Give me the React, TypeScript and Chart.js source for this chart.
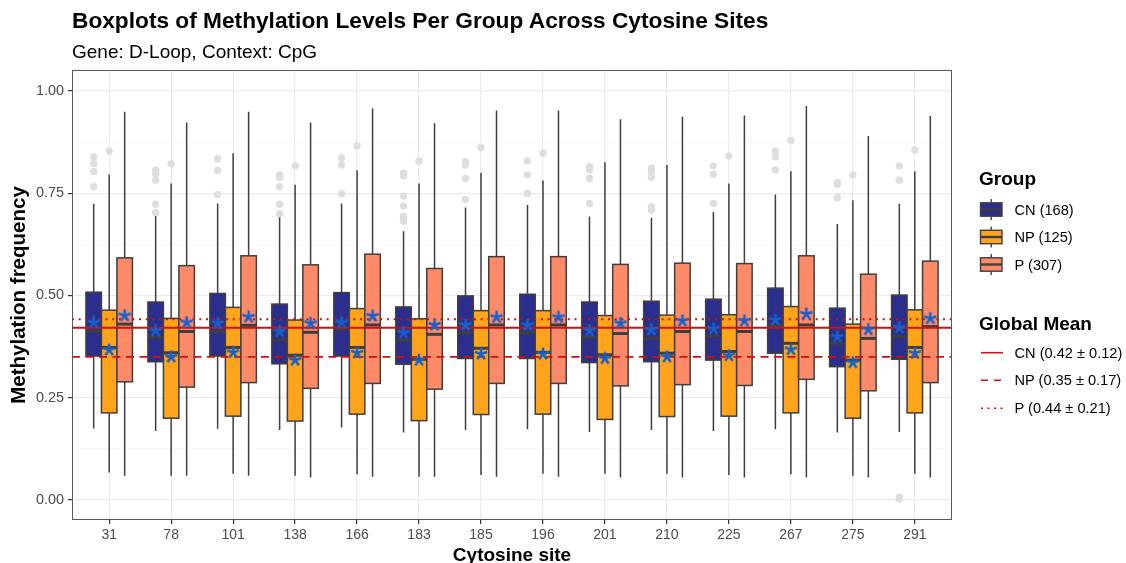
import React, { useEffect, useRef } from 'react';
import { Chart, registerables } from 'chart.js';

Chart.register(...registerables);

// ---------- DATA ----------
const sites = ['31', '78', '101', '138', '166', '183', '185', '196', '201', '210', '225', '267', '275', '291'];
const groups = ['CN (168)', 'NP (125)', 'P (307)'];
const groupColors = ['#2B2E8C', '#FFA41B', '#FF8A68'];

const cnLow = [0.175, 0.169, 0.174, 0.171, 0.177, 0.165, 0.171, 0.173, 0.166, 0.171, 0.169, 0.173, 0.165, 0.166];
const cnQ1 = [0.352, 0.338, 0.352, 0.333, 0.352, 0.332, 0.346, 0.346, 0.336, 0.338, 0.342, 0.359, 0.326, 0.344];
const cnMed = [0.412, 0.398, 0.412, 0.391, 0.418, 0.391, 0.409, 0.409, 0.398, 0.395, 0.401, 0.425, 0.383, 0.399];
const cnQ3 = [0.508, 0.484, 0.505, 0.479, 0.507, 0.472, 0.499, 0.503, 0.484, 0.486, 0.491, 0.518, 0.469, 0.501];
const cnHigh = [0.724, 0.695, 0.725, 0.693, 0.725, 0.657, 0.715, 0.721, 0.693, 0.690, 0.704, 0.747, 0.675, 0.724];
const cnMean = [0.434, 0.414, 0.432, 0.412, 0.434, 0.409, 0.428, 0.428, 0.414, 0.416, 0.419, 0.440, 0.399, 0.421];
const cnOutliers = [
  [0.839, 0.823, 0.803, 0.766],
  [0.807, 0.797, 0.782, 0.723, 0.703],
  [0.834, 0.806, 0.747],
  [0.795, 0.789, 0.766, 0.723, 0.700],
  [0.837, 0.819, 0.749],
  [0.799, 0.792, 0.743, 0.719, 0.694, 0.689, 0.682],
  [0.827, 0.819, 0.786, 0.735],
  [0.829, 0.795, 0.750],
  [0.815, 0.807, 0.786, 0.725],
  [0.811, 0.803, 0.789, 0.717, 0.709],
  [0.817, 0.797, 0.725],
  [0.853, 0.839, 0.807],
  [0.776, 0.772, 0.739],
  [0.817, 0.782, 0.007, 0.003],
];

const npLow = [0.067, 0.059, 0.064, 0.059, 0.063, 0.057, 0.061, 0.064, 0.064, 0.064, 0.061, 0.063, 0.059, 0.064];
const npQ1 = [0.213, 0.200, 0.205, 0.193, 0.210, 0.194, 0.209, 0.210, 0.197, 0.204, 0.205, 0.213, 0.200, 0.213];
const npMed = [0.373, 0.360, 0.373, 0.354, 0.373, 0.344, 0.371, 0.361, 0.355, 0.359, 0.363, 0.383, 0.342, 0.373];
const npQ3 = [0.464, 0.444, 0.471, 0.440, 0.468, 0.443, 0.463, 0.463, 0.451, 0.452, 0.453, 0.473, 0.430, 0.465];
const npHigh = [0.796, 0.774, 0.848, 0.771, 0.806, 0.774, 0.800, 0.781, 0.826, 0.819, 0.774, 0.804, 0.733, 0.804];
const npMean = [0.367, 0.350, 0.361, 0.342, 0.360, 0.342, 0.357, 0.357, 0.346, 0.350, 0.353, 0.368, 0.336, 0.359];
const npOutliers = [
  [0.853], [0.822], [], [0.817], [0.866], [0.829], [0.862], [0.848], [], [], [0.841], [0.879], [0.795], [0.856],
];

const pLow = [0.059, 0.059, 0.059, 0.055, 0.057, 0.057, 0.057, 0.057, 0.055, 0.055, 0.055, 0.055, 0.055, 0.055];
const pQ1 = [0.289, 0.276, 0.287, 0.273, 0.285, 0.271, 0.285, 0.285, 0.279, 0.282, 0.280, 0.295, 0.267, 0.287];
const pMed = [0.430, 0.412, 0.427, 0.410, 0.428, 0.405, 0.428, 0.428, 0.407, 0.412, 0.412, 0.428, 0.395, 0.424];
const pQ3 = [0.592, 0.573, 0.597, 0.575, 0.601, 0.566, 0.595, 0.595, 0.576, 0.579, 0.578, 0.597, 0.552, 0.584];
const pHigh = [0.949, 0.923, 0.949, 0.923, 0.957, 0.921, 0.952, 0.952, 0.931, 0.937, 0.940, 0.963, 0.890, 0.939];
const pMean = [0.451, 0.434, 0.448, 0.432, 0.450, 0.428, 0.447, 0.447, 0.432, 0.438, 0.438, 0.455, 0.417, 0.444];
const pOutliers: number[][] = sites.map(() => []);

const globalMeans = [0.421, 0.350, 0.442];
const globalMeanLabels = ['CN (0.42 \u00B1 0.12)', 'NP (0.35 \u00B1 0.17)', 'P (0.44 \u00B1 0.21)'];
const yTicks = [0, 0.125, 0.25, 0.375, 0.5, 0.625, 0.75, 0.875, 1.0];

// ---------- STYLE ----------
const FONT = "'Liberation Sans', Arial, Helvetica, sans-serif";
const LINE_RED = '#CD1010';
const STAR_BLUE = '#1662CC';
const OUTLINE = '#3F3F3F';
const dashes = [[], [8, 5.5], [2, 4.7]];
const legendDashes = ['', '7 6', '2 4.5'];
const groupOffsets = [-0.25, 0, 0.25];

const boxStats = [
  { low: cnLow, q1: cnQ1, med: cnMed, q3: cnQ3, high: cnHigh, mean: cnMean, out: cnOutliers },
  { low: npLow, q1: npQ1, med: npMed, q3: npQ3, high: npHigh, mean: npMean, out: npOutliers },
  { low: pLow, q1: pQ1, med: pMed, q3: pQ3, high: pHigh, mean: pMean, out: pOutliers },
];

function makeStar(): HTMLCanvasElement {
  const c = document.createElement('canvas');
  c.width = 18;
  c.height = 18;
  const g = c.getContext('2d')!;
  g.strokeStyle = STAR_BLUE;
  g.lineWidth = 2.5;
  g.lineCap = 'butt';
  for (let k = 0; k < 5; k++) {
    const a = (-90 + k * 72) * Math.PI / 180;
    g.beginPath();
    g.moveTo(9, 9);
    g.lineTo(9 + Math.cos(a) * 6.4, 9 + Math.sin(a) * 6.4);
    g.stroke();
  }
  return c;
}

const isMajor = (v: number) => Math.abs(v * 4 - Math.round(v * 4)) < 1e-6;

const boxPlugin = {
  id: 'boxPlugin',
  beforeDatasetsDraw(chart: any) {
    const { ctx, chartArea, scales } = chart;
    const xs = scales.x;
    const ys = scales.y;
    const half = Math.abs(xs.getPixelForValue(0.125) - xs.getPixelForValue(0));
    ctx.save();
    ctx.beginPath();
    ctx.rect(chartArea.left, chartArea.top, chartArea.right - chartArea.left, chartArea.bottom - chartArea.top);
    ctx.clip();
    boxStats.forEach((s, g) => {
      for (let i = 0; i < sites.length; i++) {
        const cx = xs.getPixelForValue(i + groupOffsets[g]);
        const yLow = ys.getPixelForValue(s.low[i]);
        const yQ1 = ys.getPixelForValue(s.q1[i]);
        const yMed = ys.getPixelForValue(s.med[i]);
        const yQ3 = ys.getPixelForValue(s.q3[i]);
        const yHigh = ys.getPixelForValue(s.high[i]);
        ctx.strokeStyle = OUTLINE;
        ctx.lineWidth = 1.5;
        ctx.setLineDash([]);
        ctx.beginPath();
        ctx.moveTo(cx, yHigh);
        ctx.lineTo(cx, yQ3);
        ctx.moveTo(cx, yQ1);
        ctx.lineTo(cx, yLow);
        ctx.stroke();
        ctx.fillStyle = groupColors[g];
        ctx.fillRect(cx - half, yQ3, half * 2, yQ1 - yQ3);
        ctx.strokeRect(cx - half, yQ3, half * 2, yQ1 - yQ3);
        ctx.lineWidth = 3;
        ctx.beginPath();
        ctx.moveTo(cx - half, yMed);
        ctx.lineTo(cx + half, yMed);
        ctx.stroke();
      }
    });
    globalMeans.forEach((m, k) => {
      const y = ys.getPixelForValue(m);
      ctx.strokeStyle = LINE_RED;
      ctx.lineWidth = 1.9;
      ctx.lineCap = 'butt';
      ctx.setLineDash(dashes[k]);
      ctx.beginPath();
      ctx.moveTo(chartArea.left, y);
      ctx.lineTo(chartArea.right, y);
      ctx.stroke();
    });
    ctx.restore();
  },
  afterDraw(chart: any) {
    const { ctx, chartArea } = chart;
    ctx.save();
    ctx.strokeStyle = '#5A5A5A';
    ctx.lineWidth = 1;
    ctx.setLineDash([]);
    ctx.strokeRect(chartArea.left + 0.5, chartArea.top + 0.5, chartArea.right - chartArea.left - 1, chartArea.bottom - chartArea.top - 1);
    ctx.restore();
  },
};

function BoxChart() {
  const ref = useRef<HTMLCanvasElement>(null);
  useEffect(() => {
    if (!ref.current) return;
    const star = makeStar();
    const meanData = boxStats.flatMap((s, g) => s.mean.map((v, i) => ({ x: i + groupOffsets[g], y: v })));
    const outData = boxStats.flatMap((s, g) =>
      s.out.flatMap((arr, i) => arr.map((v) => ({ x: i + groupOffsets[g], y: v })))
    );
    const chart = new Chart(ref.current, {
      type: 'scatter',
      data: {
        datasets: [
          {
            label: 'Mean',
            data: meanData,
            pointStyle: star as any,
            pointRadius: 6,
            pointHoverRadius: 6,
          },
          {
            label: 'Outliers',
            data: outData,
            pointStyle: 'circle',
            pointRadius: 3.7,
            pointHoverRadius: 3.7,
            backgroundColor: '#DEDEDE',
            borderWidth: 0,
          },
        ],
      },
      plugins: [boxPlugin],
      options: {
        responsive: false,
        animation: false,
        devicePixelRatio: 1,
        events: [],
        layout: { padding: { left: 0, top: 70, right: 174, bottom: 0 } },
        plugins: { legend: { display: false }, tooltip: { enabled: false }, title: { display: false } },
        scales: {
          x: {
            type: 'linear',
            min: -0.6,
            max: 13.6,
            afterBuildTicks: (scale: any) => {
              scale.ticks = sites.map((_, i) => ({ value: i }));
            },
            afterFit: (scale: any) => {
              scale.height = 43;
            },
            ticks: {
              autoSkip: false,
              maxRotation: 0,
              padding: 3,
              color: '#4D4D4D',
              font: { family: FONT, size: 14 },
              callback: (v: any) => sites[Math.round(Number(v))] ?? '',
            },
            grid: {
              color: '#EBEBEB',
              lineWidth: 1.2,
              drawTicks: true,
              tickLength: 4,
              tickColor: '#333333',
              tickWidth: 1.2,
            },
            border: { display: false },
            title: {
              display: true,
              text: 'Cytosine site',
              color: '#000000',
              font: { family: FONT, size: 19, weight: 'bold' },
              padding: { top: 0, bottom: -4 },
            },
          },
          y: {
            type: 'linear',
            min: -0.0489,
            max: 1.0513,
            afterBuildTicks: (scale: any) => {
              scale.ticks = yTicks.map((v) => ({ value: v }));
            },
            afterFit: (scale: any) => {
              scale.width = 72;
            },
            ticks: {
              autoSkip: false,
              padding: 4,
              color: '#4D4D4D',
              font: { family: FONT, size: 14.4 },
              callback: (v: any) => (isMajor(Number(v)) ? Number(v).toFixed(2) : ''),
            },
            grid: {
              color: (c: any) => (c.tick && isMajor(c.tick.value) ? '#EBEBEB' : '#F5F5F5'),
              lineWidth: (c: any) => (c.tick && isMajor(c.tick.value) ? 1.2 : 0.7),
              drawTicks: true,
              tickLength: 4,
              tickColor: (c: any) => (c.tick && isMajor(c.tick.value) ? '#333333' : 'rgba(0,0,0,0)'),
              tickWidth: 1.2,
            },
            border: { display: false },
            title: {
              display: true,
              text: 'Methylation frequency',
              color: '#000000',
              font: { family: FONT, size: 20.5, weight: 'bold' },
              padding: { top: 7, bottom: 0 },
            },
          },
        },
      } as any,
    });
    return () => chart.destroy();
  }, []);
  return <canvas ref={ref} width={1126} height={563} style={{ position: 'absolute', left: 0, top: 0, width: 1126, height: 563 }} />;
}

function Legend() {
  const keyCenters = [209.5, 237, 264.5];
  const lineYs = [352.7, 380.2, 408.3];
  return (
    <svg width={1126} height={563} style={{ position: 'absolute', left: 0, top: 0, pointerEvents: 'none' }}>
      <text x={72} y={28.3} fontFamily={FONT} fontSize={22.7} fontWeight="bold" fill="#000">
        Boxplots of Methylation Levels Per Group Across Cytosine Sites
      </text>
      <text x={72} y={57.5} fontFamily={FONT} fontSize={19} fill="#000">
        Gene: D-Loop, Context: CpG
      </text>
      <text x={979} y={185} fontFamily={FONT} fontSize={19} fontWeight="bold" fill="#000">Group</text>
      {groups.map((g, k) => {
        const cy = keyCenters[k];
        return (
          <g key={g}>
            <line x1={991.2} x2={991.2} y1={cy - 10.5} y2={cy + 10.5} stroke={OUTLINE} strokeWidth={1.4} />
            <rect x={980.5} y={cy - 6.7} width={21.5} height={13.4} fill={groupColors[k]} stroke={OUTLINE} strokeWidth={1.4} />
            <line x1={980.5} x2={1002} y1={cy} y2={cy} stroke={OUTLINE} strokeWidth={2.4} />
            <text x={1014.5} y={cy + 5} fontFamily={FONT} fontSize={14.6} fill="#000">{g}</text>
          </g>
        );
      })}
      <text x={979} y={330.3} fontFamily={FONT} fontSize={19} fontWeight="bold" fill="#000">Global Mean</text>
      {globalMeanLabels.map((l, k) => (
        <g key={l}>
          <line x1={981} x2={1003} y1={lineYs[k]} y2={lineYs[k]} stroke={LINE_RED} strokeWidth={1.6} strokeDasharray={legendDashes[k] || undefined} />
          <text x={1014.5} y={lineYs[k] + 5} fontFamily={FONT} fontSize={14.6} fill="#000">{l}</text>
        </g>
      ))}
    </svg>
  );
}

export default function App() {
  return (
    <div style={{ position: 'fixed', left: 0, top: 0, width: 1126, height: 563, background: '#fff', overflow: 'hidden' }}>
      <BoxChart />
      <Legend />
    </div>
  );
}
